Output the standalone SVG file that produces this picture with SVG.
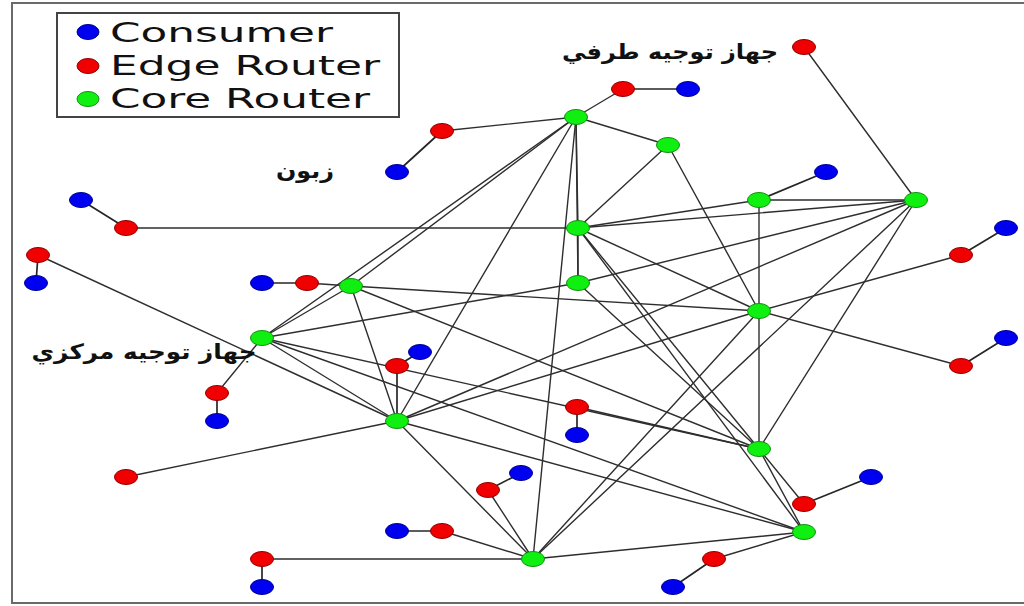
<svg xmlns="http://www.w3.org/2000/svg" width="1024" height="606" viewBox="0 0 1024 606">
  <style>
    .frame { fill: #ffffff; stroke: #6a6a6a; stroke-width: 2; }
    .legend-box { fill: #ffffff; stroke: #444444; stroke-width: 2; }
    .legend-text { font-family: "DejaVu Sans", "Liberation Sans", sans-serif; font-size: 26px; fill: #111111; }
    .label { font-family: "DejaVu Sans", "Noto Sans", sans-serif; font-size: 21px; font-weight: bold; fill: #111111; }
    .link line { stroke: #2e2e2e; stroke-width: 1.4; stroke-linecap: round; }
    .link line.access { stroke: #262626; stroke-width: 1.7; }
    .consumer { fill: #0000f0; stroke: #000090; stroke-width: 1; }
    .edge { fill: #f00000; stroke: #900000; stroke-width: 1; }
    .core { fill: #10f010; stroke: #109010; stroke-width: 1; }
  </style>

  <!-- outer frame -->
  <rect class="frame" x="12" y="3" width="1020" height="600"/>

  <!-- legend -->
  <g id="legend">
    <rect class="legend-box" x="57" y="13" width="342" height="104"/>
    <ellipse class="consumer" cx="88" cy="32" rx="11" ry="7.5"/>
    <text class="legend-text" x="110" y="42" textLength="223" lengthAdjust="spacingAndGlyphs">Consumer</text>
    <ellipse class="edge" cx="88" cy="66" rx="11" ry="7.5"/>
    <text class="legend-text" x="110" y="75" textLength="270" lengthAdjust="spacingAndGlyphs">Edge Router</text>
    <ellipse class="core" cx="88" cy="99" rx="11" ry="7.5"/>
    <text class="legend-text" x="110" y="108" textLength="260" lengthAdjust="spacingAndGlyphs">Core Router</text>
  </g>

  <!-- connectors -->
  <g id="connectors" class="link">
    <!-- consumer access links -->
    <line class="access" x1="623" y1="89" x2="688" y2="89"/>
    <line class="access" x1="442" y1="131" x2="397" y2="172"/>
    <line class="access" x1="126" y1="228" x2="81" y2="200"/>
    <line class="access" x1="38" y1="255" x2="36" y2="283"/>
    <line class="access" x1="307" y1="283" x2="262" y2="283"/>
    <line class="access" x1="217" y1="393" x2="217" y2="421"/>
    <line class="access" x1="397" y1="366" x2="420" y2="352"/>
    <line class="access" x1="577" y1="407" x2="577" y2="435"/>
    <line class="access" x1="488" y1="490" x2="521" y2="473"/>
    <line class="access" x1="442" y1="531" x2="397" y2="531"/>
    <line class="access" x1="262" y1="559" x2="262" y2="587"/>
    <line class="access" x1="961" y1="255" x2="1006" y2="228"/>
    <line class="access" x1="961" y1="366" x2="1006" y2="338"/>
    <line class="access" x1="804" y1="504" x2="871" y2="477"/>
    <line class="access" x1="714" y1="559" x2="673" y2="587"/>
    <line class="access" x1="759" y1="200" x2="826" y2="172"/>

    <!-- edge router uplinks -->
    <line x1="623" y1="89" x2="576" y2="117"/>
    <line x1="442" y1="131" x2="576" y2="117"/>
    <line x1="804" y1="47" x2="916" y2="200"/>
    <line x1="126" y1="228" x2="578" y2="228"/>
    <line x1="38" y1="255" x2="397" y2="421"/>
    <line x1="307" y1="283" x2="351" y2="286"/>
    <line x1="217" y1="393" x2="262" y2="338"/>
    <line class="access" x1="397" y1="366" x2="397" y2="421"/>
    <line x1="126" y1="477" x2="397" y2="421"/>
    <line x1="577" y1="407" x2="759" y2="449"/>
    <line x1="488" y1="490" x2="533" y2="559"/>
    <line x1="442" y1="531" x2="533" y2="559"/>
    <line x1="262" y1="559" x2="533" y2="559"/>
    <line x1="961" y1="255" x2="759" y2="311"/>
    <line x1="961" y1="366" x2="759" y2="311"/>
    <line x1="804" y1="504" x2="759" y2="449"/>
    <line x1="714" y1="559" x2="804" y2="532"/>

    <!-- core mesh -->
    <line x1="576" y1="117" x2="668" y2="145"/>
    <line x1="576" y1="117" x2="578" y2="228"/>
    <line x1="576" y1="117" x2="578" y2="283"/>
    <line x1="576" y1="117" x2="351" y2="286"/>
    <line x1="576" y1="117" x2="262" y2="338"/>
    <line x1="576" y1="117" x2="397" y2="421"/>
    <line x1="576" y1="117" x2="533" y2="559"/>
    <line x1="668" y1="145" x2="578" y2="228"/>
    <line x1="668" y1="145" x2="759" y2="311"/>
    <line x1="578" y1="228" x2="578" y2="283"/>
    <line x1="578" y1="228" x2="759" y2="200"/>
    <line x1="578" y1="228" x2="916" y2="200"/>
    <line x1="578" y1="228" x2="759" y2="311"/>
    <line x1="578" y1="228" x2="759" y2="449"/>
    <line x1="578" y1="228" x2="804" y2="532"/>
    <line x1="578" y1="283" x2="262" y2="338"/>
    <line x1="578" y1="283" x2="916" y2="200"/>
    <line x1="578" y1="283" x2="759" y2="449"/>
    <line x1="351" y1="286" x2="262" y2="338"/>
    <line x1="351" y1="286" x2="397" y2="421"/>
    <line x1="351" y1="286" x2="759" y2="311"/>
    <line x1="351" y1="286" x2="759" y2="449"/>
    <line x1="262" y1="338" x2="397" y2="421"/>
    <line x1="262" y1="338" x2="759" y2="449"/>
    <line x1="262" y1="338" x2="804" y2="532"/>
    <line x1="397" y1="421" x2="759" y2="311"/>
    <line x1="397" y1="421" x2="916" y2="200"/>
    <line x1="397" y1="421" x2="533" y2="559"/>
    <line x1="397" y1="421" x2="804" y2="532"/>
    <line x1="759" y1="200" x2="916" y2="200"/>
    <line x1="759" y1="200" x2="759" y2="311"/>
    <line x1="916" y1="200" x2="533" y2="559"/>
    <line x1="916" y1="200" x2="759" y2="449"/>
    <line x1="759" y1="311" x2="759" y2="449"/>
    <line x1="759" y1="311" x2="533" y2="559"/>
    <line x1="759" y1="449" x2="804" y2="532"/>
    <line x1="533" y1="559" x2="804" y2="532"/>
  </g>

  <!-- core routers -->
  <g id="core-a"><ellipse class="core" cx="576" cy="117" rx="11.5" ry="7.5"/></g>
  <g id="core-b"><ellipse class="core" cx="668" cy="145" rx="11.5" ry="7.5"/></g>
  <g id="core-c"><ellipse class="core" cx="578" cy="228" rx="11.5" ry="7.5"/></g>
  <g id="core-d"><ellipse class="core" cx="578" cy="283" rx="11.5" ry="7.5"/></g>
  <g id="core-e"><ellipse class="core" cx="351" cy="286" rx="11.5" ry="7.5"/></g>
  <g id="core-f"><ellipse class="core" cx="262" cy="338" rx="11.5" ry="7.5"/></g>
  <g id="core-h"><ellipse class="core" cx="397" cy="421" rx="11.5" ry="7.5"/></g>
  <g id="core-i"><ellipse class="core" cx="759" cy="200" rx="11.5" ry="7.5"/></g>
  <g id="core-j"><ellipse class="core" cx="916" cy="200" rx="11.5" ry="7.5"/></g>
  <g id="core-k"><ellipse class="core" cx="759" cy="311" rx="11.5" ry="7.5"/></g>
  <g id="core-l"><ellipse class="core" cx="759" cy="449" rx="11.5" ry="7.5"/></g>
  <g id="core-m"><ellipse class="core" cx="533" cy="559" rx="11.5" ry="7.5"/></g>
  <g id="core-n"><ellipse class="core" cx="804" cy="532" rx="11.5" ry="7.5"/></g>

  <!-- edge routers -->
  <g id="edge-1"><ellipse class="edge" cx="623" cy="89" rx="11.5" ry="7.5"/></g>
  <g id="edge-2"><ellipse class="edge" cx="442" cy="131" rx="11.5" ry="7.5"/></g>
  <g id="edge-3"><ellipse class="edge" cx="804" cy="47" rx="11.5" ry="7.5"/></g>
  <g id="edge-4"><ellipse class="edge" cx="126" cy="228" rx="11.5" ry="7.5"/></g>
  <g id="edge-5"><ellipse class="edge" cx="38" cy="255" rx="11.5" ry="7.5"/></g>
  <g id="edge-6"><ellipse class="edge" cx="307" cy="283" rx="11.5" ry="7.5"/></g>
  <g id="edge-7"><ellipse class="edge" cx="217" cy="393" rx="11.5" ry="7.5"/></g>
  <g id="edge-8"><ellipse class="edge" cx="397" cy="366" rx="11.5" ry="7.5"/></g>
  <g id="edge-9"><ellipse class="edge" cx="126" cy="477" rx="11.5" ry="7.5"/></g>
  <g id="edge-10"><ellipse class="edge" cx="577" cy="407" rx="11.5" ry="7.5"/></g>
  <g id="edge-11"><ellipse class="edge" cx="488" cy="490" rx="11.5" ry="7.5"/></g>
  <g id="edge-12"><ellipse class="edge" cx="442" cy="531" rx="11.5" ry="7.5"/></g>
  <g id="edge-13"><ellipse class="edge" cx="262" cy="559" rx="11.5" ry="7.5"/></g>
  <g id="edge-14"><ellipse class="edge" cx="961" cy="255" rx="11.5" ry="7.5"/></g>
  <g id="edge-15"><ellipse class="edge" cx="961" cy="366" rx="11.5" ry="7.5"/></g>
  <g id="edge-16"><ellipse class="edge" cx="804" cy="504" rx="11.5" ry="7.5"/></g>
  <g id="edge-17"><ellipse class="edge" cx="714" cy="559" rx="11.5" ry="7.5"/></g>

  <!-- consumers -->
  <g id="consumer-1"><ellipse class="consumer" cx="688" cy="89" rx="11.5" ry="7.5"/></g>
  <g id="consumer-2"><ellipse class="consumer" cx="397" cy="172" rx="11.5" ry="7.5"/></g>
  <g id="consumer-3"><ellipse class="consumer" cx="81" cy="200" rx="11.5" ry="7.5"/></g>
  <g id="consumer-4"><ellipse class="consumer" cx="36" cy="283" rx="11.5" ry="7.5"/></g>
  <g id="consumer-5"><ellipse class="consumer" cx="262" cy="283" rx="11.5" ry="7.5"/></g>
  <g id="consumer-6"><ellipse class="consumer" cx="217" cy="421" rx="11.5" ry="7.5"/></g>
  <g id="consumer-7"><ellipse class="consumer" cx="420" cy="352" rx="11.5" ry="7.5"/></g>
  <g id="consumer-8"><ellipse class="consumer" cx="577" cy="435" rx="11.5" ry="7.5"/></g>
  <g id="consumer-9"><ellipse class="consumer" cx="521" cy="473" rx="11.5" ry="7.5"/></g>
  <g id="consumer-10"><ellipse class="consumer" cx="397" cy="531" rx="11.5" ry="7.5"/></g>
  <g id="consumer-11"><ellipse class="consumer" cx="262" cy="587" rx="11.5" ry="7.5"/></g>
  <g id="consumer-12"><ellipse class="consumer" cx="1006" cy="228" rx="11.5" ry="7.5"/></g>
  <g id="consumer-13"><ellipse class="consumer" cx="1006" cy="338" rx="11.5" ry="7.5"/></g>
  <g id="consumer-14"><ellipse class="consumer" cx="871" cy="477" rx="11.5" ry="7.5"/></g>
  <g id="consumer-15"><ellipse class="consumer" cx="673" cy="587" rx="11.5" ry="7.5"/></g>
  <g id="consumer-16"><ellipse class="consumer" cx="826" cy="172" rx="11.5" ry="7.5"/></g>

  <!-- annotations -->
  <g id="annotations">
    <text class="label" x="670" y="59" text-anchor="middle" textLength="216" lengthAdjust="spacingAndGlyphs">جهاز توجيه طرفي</text>
    <text class="label" x="305" y="178" text-anchor="middle" textLength="58" lengthAdjust="spacingAndGlyphs">زبون</text>
    <text class="label" x="144" y="359" text-anchor="middle" textLength="225" lengthAdjust="spacingAndGlyphs">جهاز توجيه مركزي</text>
  </g>
</svg>
